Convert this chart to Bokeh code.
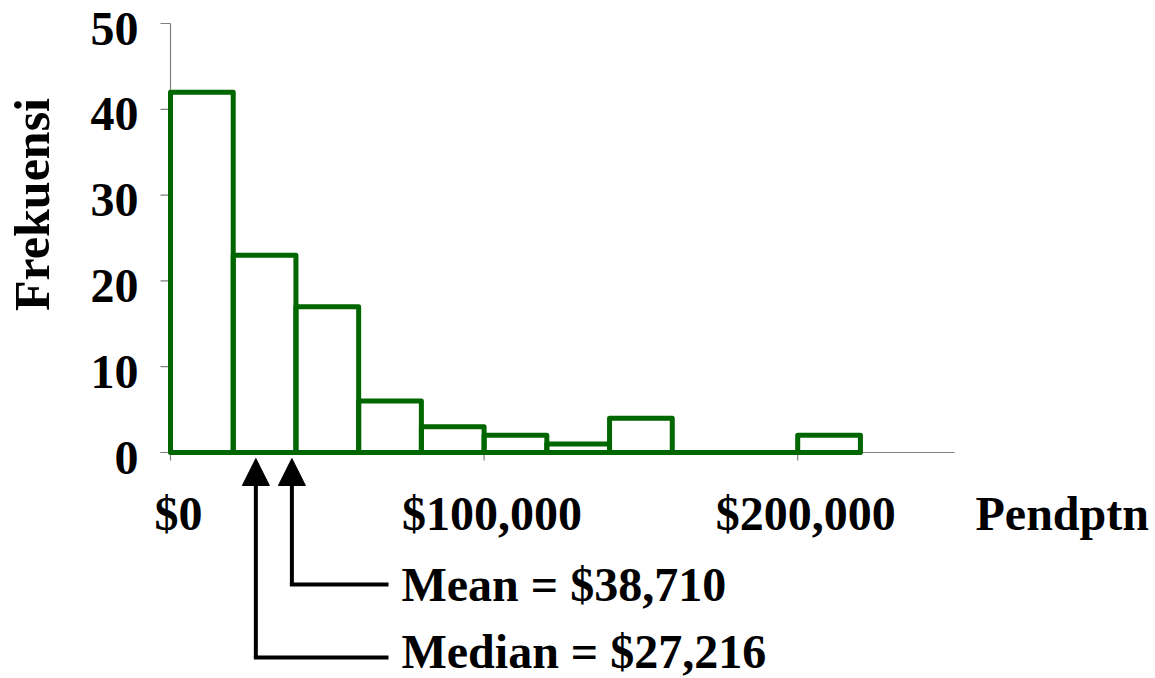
import math
from bokeh.plotting import figure
from bokeh.models import Arrow, NormalHead, ColumnDataSource, Range1d
from bokeh.core.properties import value
from bokeh.embed import file_html
from bokeh.resources import INLINE

# ---- data ----
bin_left = [0, 20000, 40000, 60000, 80000, 100000, 120000, 140000, 160000, 180000, 200000]
bin_width = 20000
frequency = [42, 23, 17, 6, 3, 2, 1, 4, 0, 0, 2]
mean_income = 38710
median_income = 27216
x_ticks = [0, 100000, 200000]
y_ticks = [0, 10, 20, 30, 40, 50]
x_tick_labels = ["$0", "$100,000", "$200,000"]
y_tick_labels = ["0", "10", "20", "30", "40", "50"]
x_title = "Pendptn"
y_title = "Frekuensi"
mean_text = "Mean = $38,710"
median_text = "Median  = $27,216"

FONT = value("Liberation Serif")
GREEN = "#006600"
AXIS = "#808080"

W, H = 1155, 678
# scale: x axis 0..250000 spans 784 px; y axis 0..50 spans 429 px
px_x = 250000 / 784.0
px_y = 50 / 429.0
x0_px, y0_px = 170, 452          # where the data origin sits on the canvas

p = figure(width=W, height=H, output_backend="svg", toolbar_location=None,
           x_range=Range1d(-x0_px * px_x, (W - x0_px) * px_x),
           y_range=Range1d(-(H - y0_px) * px_y, y0_px * px_y),
           x_axis_type=None, y_axis_type=None,
           min_border=0, min_border_left=0, min_border_right=0,
           min_border_top=0, min_border_bottom=0)
p.outline_line_color = None
p.grid.visible = False
p.background_fill_color = "white"
p.border_fill_color = "white"

# ---- axes (drawn with the plot's own scales) ----
xmax = 250000
p.segment(x0=[-10 * px_x], y0=[0], x1=[xmax], y1=[0], line_color=AXIS, line_width=1.2)
p.segment(x0=[0], y0=[0], x1=[0], y1=[max(y_ticks)], line_color=AXIS, line_width=1.2)
p.segment(x0=x_ticks, y0=[0] * len(x_ticks), x1=x_ticks, y1=[-8 * px_y] * len(x_ticks),
          line_color=AXIS, line_width=1.2)
p.segment(x0=[-10 * px_x] * len(y_ticks), y0=y_ticks, x1=[0] * len(y_ticks), y1=y_ticks,
          line_color=AXIS, line_width=1.2)

p.text(x=x_ticks, y=[-61 * px_y] * len(x_ticks), text=x_tick_labels,
       text_font=FONT, text_font_style="bold", text_font_size="48px",
       text_align="center", text_baseline="middle", x_offset=8, text_color="black")
p.text(x=[-32 * px_x] * len(y_ticks), y=y_ticks, text=y_tick_labels,
       text_font=FONT, text_font_style="bold", text_font_size="48px",
       text_align="right", text_baseline="middle", y_offset=5, text_color="black")
p.text(x=[-139 * px_x], y=[(y0_px - 204) * px_y], text=[y_title], angle=math.pi / 2,
       text_font=FONT, text_font_style="bold", text_font_size="50px",
       text_align="center", text_baseline="middle", text_color="black")
p.text(x=[805 * px_x], y=[-61 * px_y], text=[x_title],
       text_font=FONT, text_font_style="bold", text_font_size="48px",
       text_align="left", text_baseline="middle", text_color="black")

# ---- histogram ----
src = ColumnDataSource(dict(
    left=bin_left,
    right=[b + bin_width for b in bin_left],
    top=frequency,
    bottom=[0] * len(frequency),
))
p.quad(left="left", right="right", top="top", bottom="bottom", source=src,
       fill_color=None, line_color=GREEN, line_width=5, line_join="round")

# ---- mean / median pointers ----
tip_y = -6 * px_y
mean_leg_y = -132 * px_y
median_leg_y = -205 * px_y
leg_end_x = 218 * px_x
text_x = 231 * px_x

for xv, yleg in ((mean_income, mean_leg_y), (median_income, median_leg_y)):
    p.add_layout(Arrow(x_start=xv, y_start=yleg, x_end=xv, y_end=tip_y,
                       line_width=4, line_color="black",
                       end=NormalHead(size=27, fill_color="black", line_color="black")))
    p.segment(x0=[xv - 2 * px_x], y0=[yleg], x1=[leg_end_x], y1=[yleg],
              line_color="black", line_width=4)

p.text(x=[text_x, text_x], y=[mean_leg_y, -199 * px_y], text=[mean_text, median_text],
       text_font=FONT, text_font_style="bold", text_font_size="48px",
       text_align="left", text_baseline="middle", text_color="black")

open("out.html", "w").write(file_html(p, INLINE))
